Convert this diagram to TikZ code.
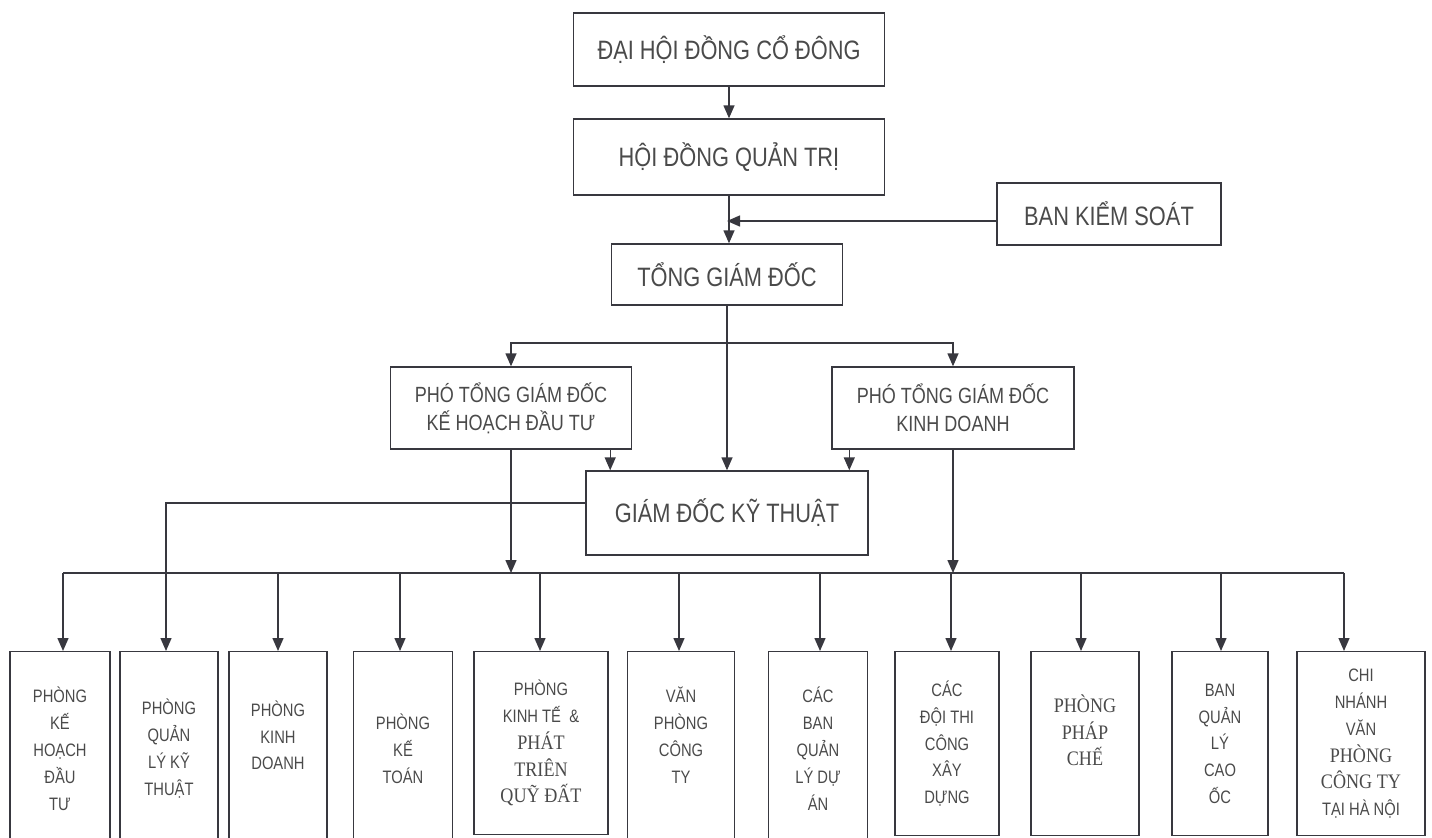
\documentclass[tikz,border=0pt]{standalone}
\usepackage{fontspec}
\setmainfont{Liberation Sans}[FakeStretch=0.82]
\newfontfamily\serifnarrow{Liberation Serif}[FakeStretch=0.88]
\newcommand\srf{\serifnarrow\fontsize{10.3}{13.4}\selectfont}
\usetikzlibrary{arrows.meta}
\definecolor{linecol}{HTML}{38383F}
\definecolor{textcol}{HTML}{4A4A4A}
\tikzset{
  box/.style={draw=linecol,line width=0.7pt,inner sep=0pt,align=center,text=textcol},
  bigbox/.style={box,font=\fontsize{13.3}{16}\selectfont},
  midbox/.style={box,font=\fontsize{11}{14}\selectfont},
  unitbox/.style={box,anchor=north,font=\fontsize{9}{13.4}\selectfont},
  line/.style={draw=linecol,line width=0.7pt},
  arr/.style={line,-{Triangle[length=6.5pt,width=5.5pt]}},
}
\begin{document}
\begin{tikzpicture}[x=0.5pt,y=-0.5pt]
  \useasboundingbox (0,0) rectangle (1432,837);
  \clip (0,0) rectangle (1432,837);
  \def\bus{573} % y of the bus line
  \def\top{651} % top of the unit boxes
  % upper levels
  \node[bigbox,minimum width=155.5pt,minimum height=36.5pt] (dhd) at (729,49.5) {ĐẠI HỘI ĐỒNG CỔ ĐÔNG};
  \node[bigbox,minimum width=155.5pt,minimum height=38pt] (hdqt) at (729,157) {HỘI ĐỒNG QUẢN TRỊ};
  \node[bigbox,minimum width=115.5pt,minimum height=30.5pt] (tgd) at (727,274.5) {TỔNG GIÁM ĐỐC};
  \node[bigbox,minimum width=112pt,minimum height=31pt] (bks) at (1109,214) {BAN KIỂM SOÁT};
  \node[midbox,minimum width=120.5pt,minimum height=41pt] (ptgd1) at (511,408) {PHÓ TỔNG GIÁM ĐỐC\\KẾ HOẠCH ĐẦU TƯ};
  \node[midbox,minimum width=121pt,minimum height=41pt] (ptgd2) at (953,408) {PHÓ TỔNG GIÁM ĐỐC\\KINH DOANH};
  \node[bigbox,minimum width=141pt,minimum height=42pt] (gdkt) at (727,513) {GIÁM ĐỐC KỸ THUẬT};
  \draw[arr] (dhd.south) -- (hdqt.north);
  \draw[arr] (hdqt.south) -- (hdqt.south |- tgd.north);
  \draw[arr] ([yshift=-3.5pt]bks.west) -- ([yshift=-3.5pt]bks.west -| tgd.north);
  \draw[arr] (tgd.south) -- (tgd.south |- gdkt.north);
  \draw[arr] (tgd.south |- 0,343) -| (ptgd1.north);
  \draw[arr] (tgd.south |- 0,343) -| (ptgd2.north);
  \draw[arr] ([xshift=-11pt]ptgd1.south east) -- ([xshift=-11pt]ptgd1.south east |- gdkt.north);
  \draw[arr] ([xshift=9pt]ptgd2.south west) -- ([xshift=9pt]ptgd2.south west |- gdkt.north);
  % units
  \foreach \n/\cx/\w/\bot/\txt in {
    1/60/100/845/{PHÒNG\\KẾ\\HOẠCH\\ĐẦU\\TƯ},
    2/169/98/845/{PHÒNG\\QUẢN\\LÝ KỸ\\THUẬT},
    3/278/98/845/{PHÒNG\\KINH\\DOANH\\~},
    4/403/99/845/{PHÒNG\\KẾ\\TOÁN},
    5/541/134/834/{PHÒNG\\KINH TẾ~~\&\\\srf PHÁT\\\srf TRIÊN\\\srf QUỸ ĐẤT},
    6/681/107/845/{VĂN\\PHÒNG\\CÔNG\\TY\\~},
    7/818/99/845/{CÁC\\BAN\\QUẢN\\LÝ DỰ\\ÁN},
    8/947/104/835/{CÁC\\ĐỘI THI\\CÔNG\\XÂY\\DỰNG},
    9/1085/108/835/{\srf PHÒNG\\\srf PHÁP\\\srf CHẾ\\~},
    10/1220/96/835/{BAN\\QUẢN\\LÝ\\CAO\\ỐC},
    11/1361/128/835/{CHI\\NHÁNH\\VĂN\\\srf PHÒNG\\\srf CÔNG TY\\TẠI HÀ NỘI}}{
    \node[unitbox,minimum width=\w*0.5pt,minimum height=(\bot-\top)*0.5pt] (u\n) at (\cx,\top) {\txt};
  }
  \foreach \n/\dx in {1/63,3/278,4/400,5/540,6/679,7/820,8/951,9/1081,10/1221,11/1344}{
    \coordinate (d\n) at (\dx,\bus);
    \draw[arr] (d\n) -- (d\n |- u\n.north);
  }
  \draw[line] (d1) -- (d11);
  \draw[arr] (ptgd1.south) -- (ptgd1.south |- d1);
  \draw[arr] (ptgd2.south) -- (ptgd2.south |- d1);
  % technical director to the engineering office
  \coordinate (k) at (166,503);
  \draw[arr] (gdkt.west |- k) -- (k) -- (k |- u2.north);
\end{tikzpicture}
\end{document}
